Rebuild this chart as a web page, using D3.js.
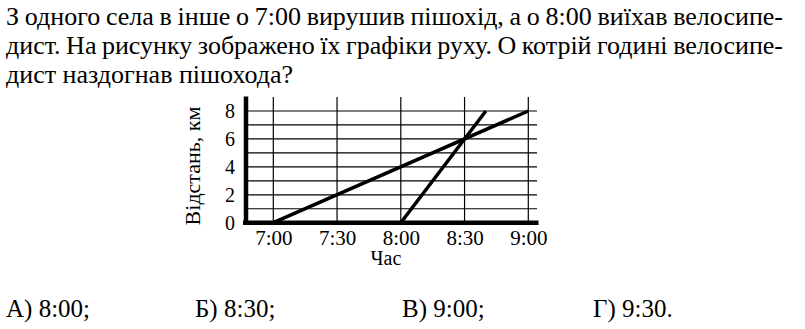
<!DOCTYPE html>
<html lang="uk">
<head>
<meta charset="UTF-8">
<title>Графіки руху</title>
<script src="https://d3js.org/d3.v7.min.js"></script>
<style>
  body { margin: 0; padding: 0; background: #fff; }
  svg { display: block; }
  svg text { font-family: 'Liberation Serif', 'Times New Roman', serif; fill: #000; }
  .axis path, .axis line { display: none; }
</style>
</head>
<body>
<svg width="805" height="329"></svg>
<script>
// question text and answer choices
const questionLines = [
  "З одного села в інше о 7:00 вирушив пішохід, а о 8:00 виїхав велосипе-",
  "дист. На рисунку зображено їх графіки руху. О котрій годині велосипе-",
  "дист наздогнав пішохода?"
];
const answers = ["А) 8:00;", "Б) 8:30;", "В) 9:00;", "Г) 9:30."];

// chart data (time in hours, distance in km)
const timeTicks = [7, 7.5, 8, 8.5, 9];
const timeLabels = ["7:00", "7:30", "8:00", "8:30", "9:00"];
const distTicks = [0, 2, 4, 6, 8];
const distGrid = [1, 2, 3, 4, 5, 6, 7, 8];
const pedestrian = [[7, 0], [9, 8]];
const cyclist = [[8, 0], [8.667, 8]];

const FONT = "'Liberation Serif', 'Times New Roman', serif";
const svg = d3.select("svg");

// --- text block ---
const textSize = 26;
const textLeft = 6, textRight = 783;
const lineY = [25, 54, 83];

questionLines.forEach((line, i) => {
  const g = svg.append("text")
    .attr("y", lineY[i])
    .attr("font-family", FONT)
    .style("font-size", textSize + "px");
  const words = line.split(" ");
  const justify = i < questionLines.length - 1;
  // measure each word so lines can be justified
  const widths = words.map(w => {
    const t = svg.append("text").attr("font-family", FONT)
      .style("font-size", textSize + "px").text(w);
    const wd = t.node().getComputedTextLength();
    t.remove();
    return wd;
  });
  const total = d3.sum(widths);
  const gap = justify ? (textRight - textLeft - total) / (words.length - 1) : textSize * 0.25;
  let x = textLeft;
  words.forEach((w, j) => {
    g.append("tspan").attr("x", x).text(w);
    x += widths[j] + gap;
  });
});

const answerX = [6, 195, 402, 593];
svg.selectAll(".answer")
  .data(answers)
  .join("text")
  .attr("class", "answer")
  .attr("x", (d, i) => answerX[i])
  .attr("y", 317)
  .attr("font-family", FONT)
  .style("font-size", "25px")
  .text(d => d);

// --- chart ---
const x = d3.scaleLinear().domain([7, 9]).range([273.3, 528.3]);
const y = d3.scaleLinear().domain([0, 8]).range([222.7, 111]);

const xLeft = x.invert(246);
const xRight = x.invert(537);
const yTop = y.invert(97);

const chart = svg.append("g");

// horizontal grid
chart.selectAll(".hgrid")
  .data(distGrid)
  .join("line")
  .attr("x1", x(xLeft)).attr("x2", x(xRight))
  .attr("y1", d => y(d)).attr("y2", d => y(d))
  .attr("stroke", "#000").attr("stroke-width", 1.2);

// vertical grid
chart.selectAll(".vgrid")
  .data(timeTicks)
  .join("line")
  .attr("x1", d => x(d)).attr("x2", d => x(d))
  .attr("y1", y(0)).attr("y2", y(yTop))
  .attr("stroke", "#000").attr("stroke-width", 1.2);

// axes (thick)
chart.append("line")
  .attr("x1", x(xLeft) - 3).attr("x2", x(xRight) + 1.5)
  .attr("y1", y(0)).attr("y2", y(0))
  .attr("stroke", "#000").attr("stroke-width", 4.5);
chart.append("line")
  .attr("x1", x(xLeft)).attr("x2", x(xLeft))
  .attr("y1", y(yTop) - 0.5).attr("y2", y(0) + 2)
  .attr("stroke", "#000").attr("stroke-width", 4.5);

// motion lines
const line = d3.line().x(d => x(d[0])).y(d => y(d[1]));
[pedestrian, cyclist].forEach(s => {
  chart.append("path")
    .attr("d", line(s))
    .attr("fill", "none")
    .attr("stroke", "#000")
    .attr("stroke-width", 3.5);
});

// tick labels
const xAxis = chart.append("g")
  .attr("class", "axis")
  .attr("transform", `translate(0,${y(0)})`)
  .call(d3.axisBottom(x).tickValues(timeTicks).tickSize(0).tickPadding(0)
    .tickFormat((d, i) => timeLabels[i]))
  .attr("font-family", FONT);
xAxis.selectAll("text")
  .attr("y", 22.5).attr("dy", null)
  .style("font-size", "21px");

const yAxis = chart.append("g")
  .attr("class", "axis")
  .attr("transform", `translate(235,0)`)
  .call(d3.axisLeft(y).tickValues(distTicks).tickSize(0).tickPadding(0))
  .attr("font-family", FONT);
yAxis.selectAll("text")
  .attr("x", 0).attr("dy", "0.33em")
  .style("font-size", "20px");

// axis titles
chart.append("text")
  .attr("x", 386).attr("y", 265)
  .attr("text-anchor", "middle")
  .attr("font-family", FONT)
  .style("font-size", "20px")
  .text("Час");

chart.append("text")
  .attr("transform", "translate(200,166) rotate(-90)")
  .attr("text-anchor", "middle")
  .attr("font-family", FONT)
  .style("font-size", "22px")
  .text("Відстань, км");
</script>
</body>
</html>
